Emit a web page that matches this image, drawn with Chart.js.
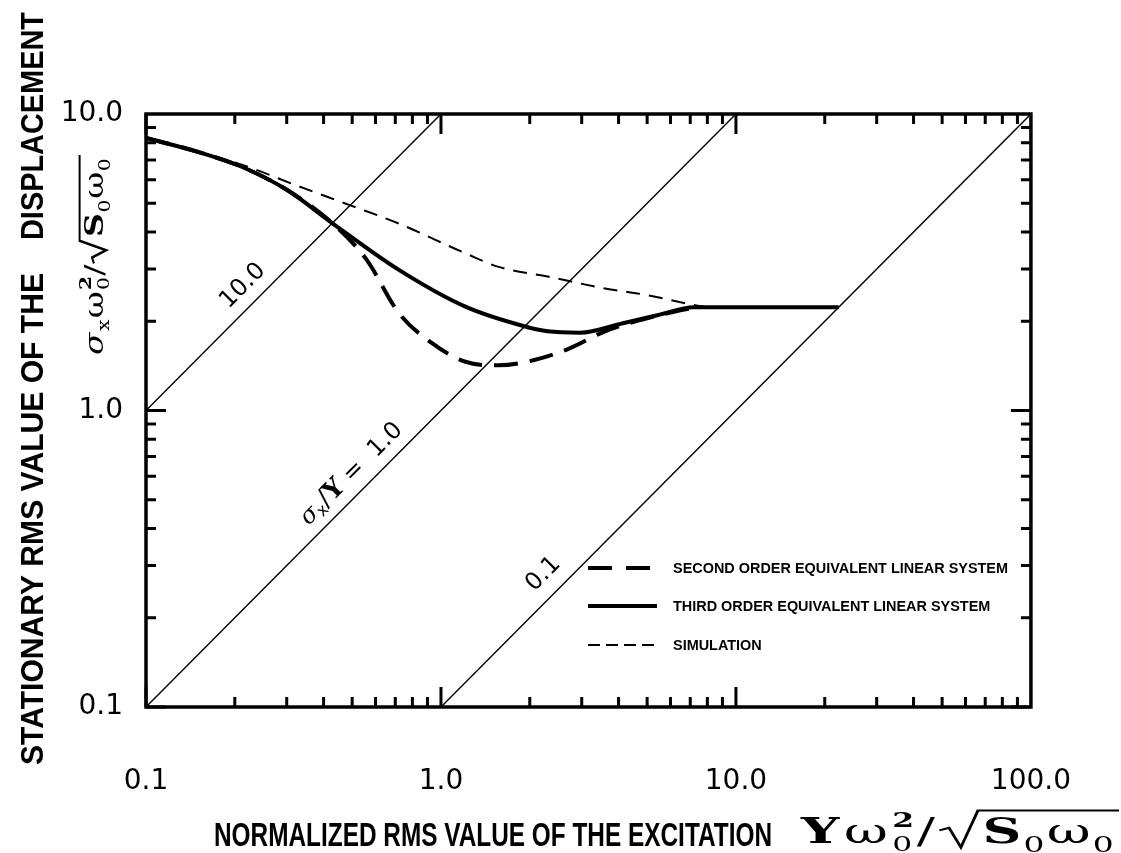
<!DOCTYPE html>
<html>
<head>
<meta charset="utf-8">
<script src="https://cdn.jsdelivr.net/npm/chart.js@4.4.1/dist/chart.umd.min.js"></script>
<style>
html, body { margin: 0; padding: 0; background: #fff; }
canvas { display: block; }
</style>
</head>
<body>
<canvas id="chart" width="1121" height="853"></canvas>
<script>
// decade labels on both log axes
var xTicks = [0.1, 1, 10, 100];
var xTickLabels = ['0.1', '1.0', '10.0', '100.0'];
var yTicks = [0.1, 1, 10];
var yTickLabels = ['0.1', '1.0', '10.0'];

// second order equivalent linear system
var secondX = [0.1, 0.15, 0.21, 0.3, 0.43, 0.56, 0.72, 0.93, 1.21, 1.57, 2.07, 2.73, 3.6, 4.75, 6.27, 7.4];
var secondY = [8.3, 7.45, 6.65, 5.55, 4.27, 3.22, 2.13, 1.69, 1.46, 1.42, 1.48, 1.62, 1.85, 2.02, 2.16, 2.23];

// third order equivalent linear system
var thirdX = [0.1, 0.15, 0.21, 0.3, 0.43, 0.72, 1.21, 1.93, 2.3, 2.96, 4.14, 5.46, 7.2, 22.3];
var thirdY = [8.3, 7.45, 6.65, 5.55, 4.27, 2.98, 2.24, 1.92, 1.85, 1.83, 1.97, 2.1, 2.23, 2.23];

// simulation
var simX = [0.1, 0.15, 0.22, 0.33, 0.49, 0.72, 1.21, 1.57, 2.3, 3.6, 5.0, 7.2, 8.0];
var simY = [8.3, 7.45, 6.65, 5.7, 4.93, 4.27, 3.39, 3.05, 2.83, 2.58, 2.45, 2.27, 2.23];

// constant ratio lines sigma_x / Y
var ratios = [10, 1, 0.1];

var legendNames = ['SECOND ORDER EQUIVALENT LINEAR SYSTEM', 'THIRD ORDER EQUIVALENT LINEAR SYSTEM', 'SIMULATION'];

function pts(xs, ys) {
    return xs.map(function (x, i) { return { x: x, y: ys[i] }; });
}

function ratioLine(r) {
    var x0 = Math.max(0.1, 0.1 / r);
    var x1 = Math.min(100, 10 / r);
    return [{ x: x0, y: r * x0 }, { x: x1, y: r * x1 }];
}

var datasets = ratios.map(function (r) {
    return {
        data: ratioLine(r),
        borderColor: '#000',
        borderWidth: 1.4,
        pointRadius: 0,
        showLine: true
    };
});

datasets.push({
    data: pts(simX, simY),
    borderColor: '#000',
    borderWidth: 2,
    borderDash: [14, 9],
    pointRadius: 0,
    showLine: true,
    cubicInterpolationMode: 'monotone'
});
datasets.push({
    data: pts(secondX, secondY),
    borderColor: '#000',
    borderWidth: 4,
    borderDash: [24, 12],
    pointRadius: 0,
    showLine: true,
    cubicInterpolationMode: 'monotone'
});
datasets.push({
    data: pts(thirdX, thirdY),
    borderColor: '#000',
    borderWidth: 4,
    pointRadius: 0,
    showLine: true,
    cubicInterpolationMode: 'monotone'
});

function labelFor(list, labels, v) {
    for (var i = 0; i < list.length; i++) {
        if (Math.abs(v - list[i]) < list[i] * 1e-6) return labels[i];
    }
    return '';
}

// text squeezed or stretched to a given width
function fitText(ctx, text, x, y, width) {
    var w = ctx.measureText(text).width;
    ctx.save();
    ctx.translate(x, y);
    ctx.scale(width / w, 1);
    ctx.fillText(text, 0, 0);
    ctx.restore();
}

// draw a list of text runs left to right, returns end x
function runs(ctx, list, x, y, gap, dry) {
    list.forEach(function (r) {
        ctx.font = r.f;
        if (!dry) ctx.fillText(r.t, x, y + (r.dy || 0));
        var w = ctx.measureText(r.t).width;
        if (!r.stack) x += w + (gap || 0);
    });
    return x;
}

// "<head> / sqrt(S0 w0)"
function formula(ctx, head, x, y, s, gap, dry) {
    var serifB = 'bold ' + s + 'px "DejaVu Serif"';
    var serif = s + 'px "DejaVu Serif"';
    var small = Math.round(s * 0.6) + 'px "DejaVu Serif"';
    x = runs(ctx, head, x, y, gap, dry);
    x = runs(ctx, [{ t: '/', f: serif }], x, y, gap, dry);
    var rx = x;
    var inner = [
        { t: 'S', f: serifB },
        { t: '0', f: small, dy: s * 0.25 },
        { t: 'ω', f: serif },
        { t: '0', f: small, dy: s * 0.25 }
    ];
    var start = rx + s * 0.8;
    var end = runs(ctx, inner, start, y, gap * 0.5, dry) + 2;
    if (!dry) {
        ctx.beginPath();
        ctx.lineWidth = 2;
        ctx.moveTo(rx, y - s * 0.35);
        ctx.lineTo(rx + s * 0.18, y - s * 0.42);
        ctx.lineTo(rx + s * 0.4, y + s * 0.12);
        ctx.lineTo(start - 3, y - s * 0.9);
        ctx.lineTo(end, y - s * 0.9);
        ctx.stroke();
    }
    return end;
}

// formula scaled to span a given width starting at x
function fitFormula(ctx, head, x, y, s, gap, width) {
    var w = formula(ctx, head, 0, 0, s, gap, true);
    ctx.save();
    ctx.translate(x, y);
    ctx.scale(width / w, 1);
    formula(ctx, head, 0, 0, s, gap);
    ctx.restore();
}

var paperPlugin = {
    id: 'paper',
    beforeDraw: function (chart) {
        var ctx = chart.ctx;
        ctx.save();
        ctx.fillStyle = '#fff';
        ctx.fillRect(0, 0, chart.width, chart.height);
        ctx.restore();
    },
    afterDatasetsDraw: function (chart) {
        var ctx = chart.ctx, a = chart.chartArea;
        var xs = chart.scales.x, ys = chart.scales.y;
        ctx.save();
        ctx.strokeStyle = '#000';
        ctx.fillStyle = '#000';
        ctx.lineWidth = 3.5;
        ctx.strokeRect(a.left, a.top, a.right - a.left, a.bottom - a.top);

        // inward ticks on all four sides
        ctx.lineWidth = 3;
        ctx.beginPath();
        for (var e = -1; e <= 1; e++) {
            for (var j = 1; j <= 9; j++) {
                var v = j * Math.pow(10, e);
                var len = j === 1 ? 20 : 10;
                var p = xs.getPixelForValue(v);
                ctx.moveTo(p, a.bottom); ctx.lineTo(p, a.bottom - len);
                ctx.moveTo(p, a.top); ctx.lineTo(p, a.top + len);
                if (e < 1) {
                    var q = ys.getPixelForValue(v);
                    ctx.moveTo(a.left, q); ctx.lineTo(a.left + len, q);
                    ctx.moveTo(a.right, q); ctx.lineTo(a.right - len, q);
                }
            }
        }
        ctx.stroke();

        // legend
        var lx = 588, lw = 69, rows = [568, 606, 645];
        ctx.beginPath();
        ctx.lineWidth = 4;
        ctx.setLineDash([24, 14]);
        ctx.moveTo(lx, rows[0]); ctx.lineTo(lx + lw, rows[0]);
        ctx.stroke();
        ctx.beginPath();
        ctx.setLineDash([]);
        ctx.moveTo(lx, rows[1]); ctx.lineTo(lx + lw, rows[1]);
        ctx.stroke();
        ctx.beginPath();
        ctx.lineWidth = 2;
        ctx.setLineDash([12, 6]);
        ctx.moveTo(lx, rows[2]); ctx.lineTo(lx + lw, rows[2]);
        ctx.stroke();
        ctx.setLineDash([]);
        ctx.font = 'bold 14px "Liberation Sans"';
        ctx.textBaseline = 'middle';
        var squeeze = 335 / ctx.measureText(legendNames[0]).width;
        legendNames.forEach(function (n, i) {
            fitText(ctx, n, 673, rows[i] + 1, ctx.measureText(n).width * squeeze);
        });

        // labels along the ratio lines
        ctx.textBaseline = 'alphabetic';
        function along(vx, vy, list) {
            var w = runs(ctx, list, 0, 0, 0, true);
            ctx.save();
            ctx.translate(xs.getPixelForValue(vx), ys.getPixelForValue(vy));
            ctx.rotate(-Math.PI / 4);
            runs(ctx, list, -w / 2, 9, 0);
            ctx.restore();
        }
        along(0.21, 2.67, [{ t: '10.0', f: '24px "DejaVu Sans"' }]);
        along(0.49, 0.62, [
            { t: 'σ', f: 'italic 24px "DejaVu Serif"' },
            { t: 'x', f: '16px "DejaVu Sans"', dy: 4 },
            { t: '/', f: '26px "DejaVu Serif"' },
            { t: 'Y', f: 'bold 26px "DejaVu Serif"' },
            { t: ' =  1.0', f: '24px "DejaVu Sans"' }
        ]);
        along(2.19, 0.285, [{ t: '0.1', f: '24px "DejaVu Sans"' }]);
        ctx.restore();
    },
    afterDraw: function (chart) {
        var ctx = chart.ctx;
        ctx.save();
        ctx.fillStyle = '#000';
        ctx.strokeStyle = '#000';
        ctx.textBaseline = 'alphabetic';
        ctx.textAlign = 'left';

        // y axis title, read bottom to top
        ctx.save();
        ctx.translate(43, 0);
        ctx.rotate(-Math.PI / 2);
        ctx.font = 'bold 32px "Liberation Sans"';
        fitText(ctx, 'STATIONARY RMS VALUE OF THE', -765, 0, 492);
        fitText(ctx, 'DISPLACEMENT', -240, 0, 228);
        ctx.restore();

        // quantity on the y axis
        var head = [
            { t: 'σ', f: 'italic 26px "DejaVu Serif"' },
            { t: 'x', f: '16px "DejaVu Serif"', dy: 6 },
            { t: 'ω', f: '26px "DejaVu Serif"' },
            { t: '2', f: 'bold 16px "DejaVu Serif"', dy: -12, stack: true },
            { t: '0', f: '16px "DejaVu Serif"', dy: 6 }
        ];
        ctx.save();
        ctx.translate(103, 0);
        ctx.rotate(-Math.PI / 2);
        fitFormula(ctx, head, -355, 0, 26, 1, 200);
        ctx.restore();

        // x axis title
        ctx.font = 'bold 34px "Liberation Sans"';
        fitText(ctx, 'NORMALIZED RMS VALUE OF THE EXCITATION', 214, 846, 558);
        fitFormula(ctx, [
            { t: 'Y', f: 'bold 36px "DejaVu Serif"' },
            { t: 'ω', f: '36px "DejaVu Serif"' },
            { t: '2', f: 'bold 21px "DejaVu Serif"', dy: -16, stack: true },
            { t: '0', f: '21px "DejaVu Serif"', dy: 8 }
        ], 801, 843, 36, 3, 318);
        ctx.restore();
    }
};

new Chart(document.getElementById('chart').getContext('2d'), {
    type: 'scatter',
    data: { datasets: datasets },
    options: {
        responsive: false,
        animation: false,
        devicePixelRatio: 1,
        layout: { padding: { top: 114, right: 86, left: 0, bottom: 0 } },
        plugins: { legend: { display: false }, tooltip: { enabled: false } },
        scales: {
            x: {
                type: 'logarithmic',
                min: 0.1,
                max: 100,
                grid: { display: false },
                border: { display: false },
                afterFit: function (s) { s.height = 146; },
                ticks: {
                    autoSkip: false,
                    maxRotation: 0,
                    minRotation: 0,
                    padding: 50,
                    color: '#000',
                    font: { family: 'DejaVu Sans', size: 28 },
                    callback: function (v) { return labelFor(xTicks, xTickLabels, v); }
                }
            },
            y: {
                type: 'logarithmic',
                min: 0.1,
                max: 10,
                grid: { display: false },
                border: { display: false },
                afterFit: function (s) { s.width = 146; },
                ticks: {
                    autoSkip: false,
                    padding: 15,
                    color: '#000',
                    font: { family: 'DejaVu Sans', size: 28 },
                    callback: function (v) { return labelFor(yTicks, yTickLabels, v); }
                }
            }
        }
    },
    plugins: [paperPlugin]
});
</script>
</body>
</html>
